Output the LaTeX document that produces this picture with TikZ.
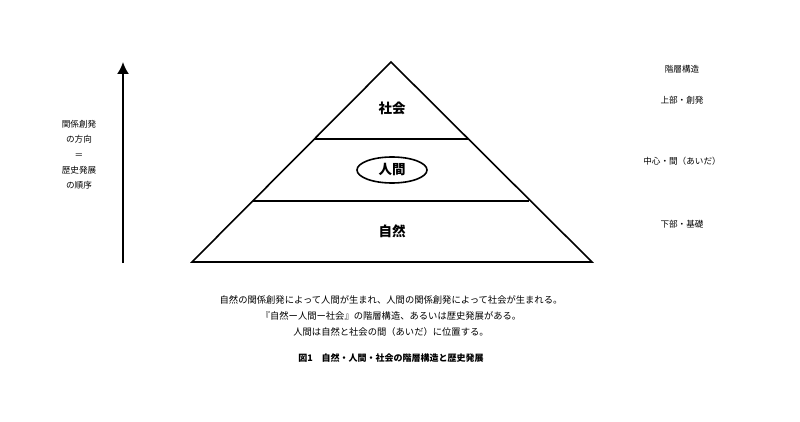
\documentclass[tikz,border=0pt]{standalone}
\usepackage{fontspec}
\setmainfont{Noto Sans CJK JP}
\usetikzlibrary{arrows.meta}
\usetikzlibrary{shapes.geometric}
\usetikzlibrary{positioning}
\tikzset{layer/.style = {line width = 1.6pt, line join = miter}}
\tikzset{small/.style = {font = \fontsize{8.6}{15.3}\selectfont, align = center, inner sep = 0}}
\tikzset{big/.style = {font = \fontsize{13.5}{15}\selectfont\bfseries, inner sep = 0}}

\begin{document}
\begin{tikzpicture}[x=1pt, y=-1pt]
      \useasboundingbox (0, 0) rectangle (800, 422);

      % pyramid
      \coordinate (top) at (391, 62);
      \coordinate (bl) at (192, 262);
      \coordinate (br) at (592, 262);
      \coordinate (al) at (314, 139);
      \coordinate (ar) at (468, 139);
      \coordinate (cl) at (253, 201);
      \coordinate (cr) at (529, 201);
      \draw [layer] (top) -- (br) -- (bl) -- cycle;
      \draw [layer] (al) -- (ar);
      \draw [layer] (cl) -- (cr);

      \node [big] (society) at (392, 108) {社会};
      \node [big, draw, ellipse, line width = 1.6pt, minimum width = 70, minimum height = 26] (human) at (392, 170) {人間};
      \node [big] (nature) at (392, 231) {自然};

      % arrow on the left
      \coordinate (abot) at (123, 263);
      \coordinate (atop) at (123, 62);
      \draw [line width = 1.8pt, -{Latex[length = 12pt, width = 12pt]}] (abot) -- (atop);
      \node [small] (direction) at (79, 155) {関係創発\\の方向\\＝\\歴史発展\\の順序};

      % labels on the right
      \node [small] (structure) at (682, 69) {階層構造};
      \node [small] (upper) at (682, 100) {上部・創発};
      \node [small] (middle) at (682, 161) {中心・間（あいだ）};
      \node [small] (lower) at (682, 224) {下部・基礎};

      % text below
      \node [small, font = \fontsize{9.3}{16}\selectfont] (note) at (391, 316)
        {自然の関係創発によって人間が生まれ、人間の関係創発によって社会が生まれる。\\
         『自然ー人間ー社会』の階層構造、あるいは歴史発展がある。\\
         人間は自然と社会の間（あいだ）に位置する。};
      \node [small, font = \fontsize{9}{10}\selectfont\bfseries] (caption) at (391, 358)
        {図1　自然・人間・社会の階層構造と歴史発展};
    \end{tikzpicture}
\end{document}
